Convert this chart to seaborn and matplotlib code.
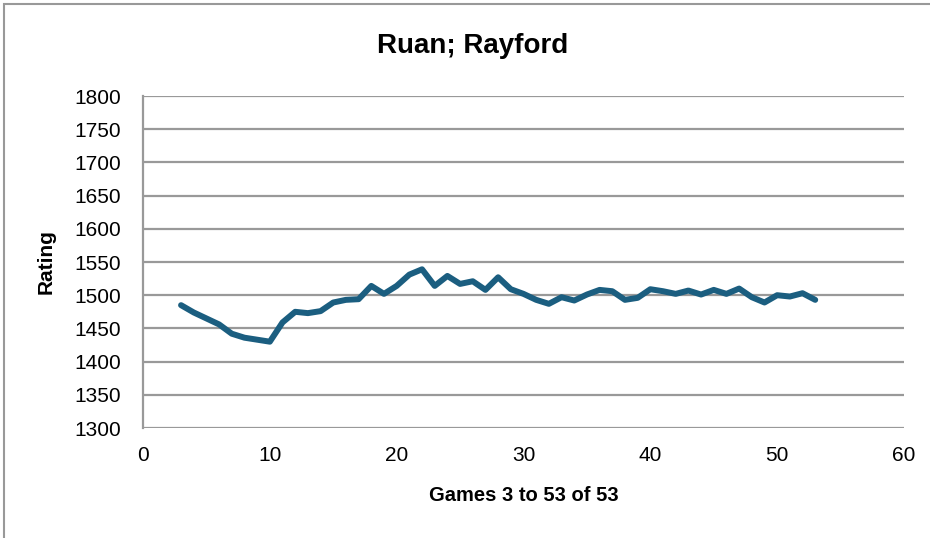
import numpy as np
import pandas as pd
import seaborn as sns
import matplotlib.pyplot as plt
from matplotlib.patches import Rectangle

# Games and rating values
games = list(range(3, 54))
ratings = [1485, 1474, 1465, 1456, 1442, 1436, 1433, 1430, 1459, 1475,
           1473, 1476, 1489, 1493, 1494, 1514, 1502, 1514, 1531, 1539,
           1514, 1529, 1517, 1521, 1508, 1527, 1509, 1502, 1493, 1487,
           1497, 1492, 1501, 1508, 1506, 1493, 1496, 1509, 1506, 1502,
           1507, 1501, 1508, 1502, 1510, 1497, 1489, 1500, 1498, 1503,
           1493]
x_ticks = [0, 10, 20, 30, 40, 50, 60]
y_ticks = list(range(1300, 1801, 50))

df = pd.DataFrame({'game': games, 'rating': ratings})

sns.set_style('white')
plt.rcParams['font.family'] = ['Liberation Sans', 'DejaVu Sans']
plt.rcParams['text.color'] = 'black'
plt.rcParams['axes.labelcolor'] = 'black'

fig = plt.figure(figsize=(9.3, 5.38), dpi=100)
ax = fig.add_axes([143 / 930, 1 - 428 / 538, (904 - 143) / 930, (428 - 96) / 538])

sns.lineplot(data=df, x='game', y='rating', ax=ax, color='#1B5E80',
             linewidth=4.3, solid_joinstyle='round', solid_capstyle='round')

ax.set_xlim(0, 60)
ax.set_ylim(1300, 1800)
ax.set_xticks(x_ticks)
ax.set_yticks(y_ticks)
ax.yaxis.grid(True, color='#999999', linewidth=1.6)
ax.set_axisbelow(True)
for s in ['top', 'right', 'bottom']:
    ax.spines[s].set_visible(False)
ax.spines['left'].set_color('#999999')
ax.spines['left'].set_linewidth(1.6)
ax.tick_params(axis='both', which='both', length=5, width=1.4, color='#999999',
               labelsize=15, labelcolor='black', direction='out')
ax.tick_params(axis='y', pad=11)
ax.tick_params(axis='x', pad=8)

fig.text(473 / 930, 1 - 46 / 538, 'Ruan; Rayford', fontsize=20, fontweight='bold',
         ha='center', va='center')
ax.set_xlabel('Games 3 to 53 of 53', fontsize=14.5, fontweight='bold', labelpad=15)
ax.set_ylabel('Rating', fontsize=15, fontweight='bold', labelpad=13)

# chart border like the spreadsheet frame
fig.patches.append(Rectangle((4 / 930, -0.05), 1.2, 1 - 4 / 538 + 0.05,
                             transform=fig.transFigure, fill=False,
                             edgecolor='#999999', linewidth=1.5))

fig.savefig('out.png', dpi=100)
